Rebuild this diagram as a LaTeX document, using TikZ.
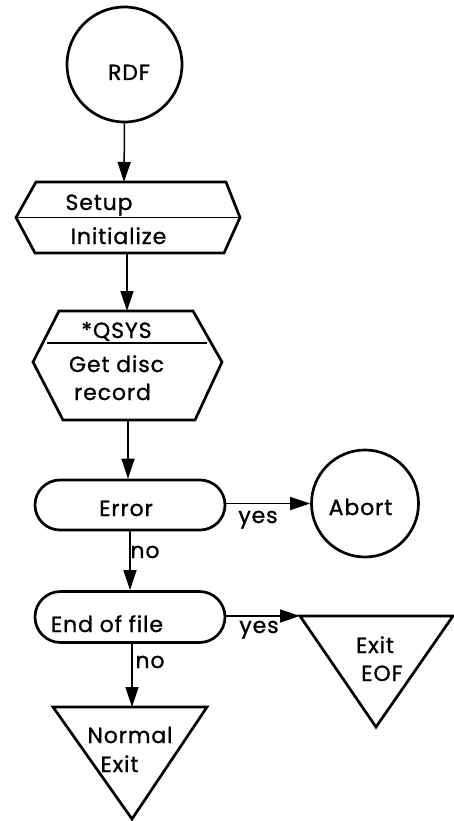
\documentclass[tikz,border=0pt]{standalone}
\usepackage{fontspec}
\setmainfont{Poppins}[LetterSpace=4,FakeBold=1]
\usetikzlibrary{arrows.meta,shapes.misc}

\begin{document}
\begin{tikzpicture}[x=1pt,y=-1pt,
  outline/.style={line width=2.7pt, line join=miter},
  rule/.style={line width=1.4pt},
  flow/.style={line width=1.5pt, -{Triangle[length=20pt,width=13pt]}},
  txt/.style={font=\fontsize{22}{24}\selectfont, inner sep=0pt, anchor=base},
]
\useasboundingbox (0,0) rectangle (454,821);

% start terminal
\node[circle, draw, outline, minimum size=115pt, inner sep=0pt] (rdf) at (124.5,64.5) {};
\node[txt] (rdf-t) at (129,80) {RDF};

% setup / initialize block
\draw[outline] (36,182) -- (226,182) -- (240,217.5) -- (224,253) -- (35,253) -- (16,217.5) -- cycle;
\draw[rule] (16,217.5) -- (240,217.5);
\coordinate (setup-n) at (124,182);
\coordinate (setup-s) at (127,253);
\node[txt] (setup-t) at (99,210) {Setup};
\node[txt] (init-t) at (118.5,244) {Initialize};

% QSYS block
\draw[outline] (59,311) -- (193,311) -- (222,362) -- (195,420) -- (63,420) -- (33,362) -- cycle;
\draw[rule] (47,343) -- (207,343);
\coordinate (qsys-n) at (127,311);
\coordinate (qsys-s) at (128,420);
\node[txt] (qsys-t) at (116.5,338) {*QSYS};
\node[txt] (get-t) at (116.5,372) {Get disc};
\node[txt] (rec-t) at (112.5,400) {record};

% decisions
\node[rounded rectangle, draw, outline, minimum width=190pt, minimum height=50pt, inner sep=0pt] (err) at (130,505) {};
\node[txt] (err-t) at (126,516) {Error};
\node[circle, draw, outline, minimum size=107pt, inner sep=0pt] (abort) at (365,503.5) {};
\node[txt] (abort-t) at (360.5,515) {Abort};

\node[rounded rectangle, draw, outline, minimum width=190pt, minimum height=51pt, inner sep=0pt] (eof) at (130,617) {};
\node[txt] (eof-t) at (107,632) {End of file};

% exits
\draw[outline] (300,616) -- (453,616) -- (376,727) -- cycle;
\coordinate (xeof-w) at (300,616);
\node[txt] (xeof-t1) at (375,653) {Exit};
\node[txt] (xeof-t2) at (382,681) {EOF};

\draw[outline] (53,707) -- (207,707) -- (132,819) -- cycle;
\coordinate (norm-n) at (132,707);
\node[txt] (norm-t1) at (130,743) {Normal};
\node[txt] (norm-t2) at (119.5,772) {Exit};

% connectors
\draw[flow] (rdf.south) -- (setup-n);
\draw[flow] (setup-s) -- (qsys-n);
\draw[flow] (qsys-s) -- (err.north -| qsys-s);
\draw[flow] (err.east |- abort.west) -- (abort.west);
\draw[flow] (err.south) -- (eof.north);
\draw[flow] (eof.east |- xeof-w) -- (xeof-w);
\draw[flow] (eof.south -| norm-n) -- (norm-n);

% branch labels
\node[txt] (yes1) at (258,523) {yes};
\node[txt] (no1) at (145,558) {no};
\node[txt] (yes2) at (259,633) {yes};
\node[txt] (no2) at (150,668) {no};
\end{tikzpicture}
\end{document}
